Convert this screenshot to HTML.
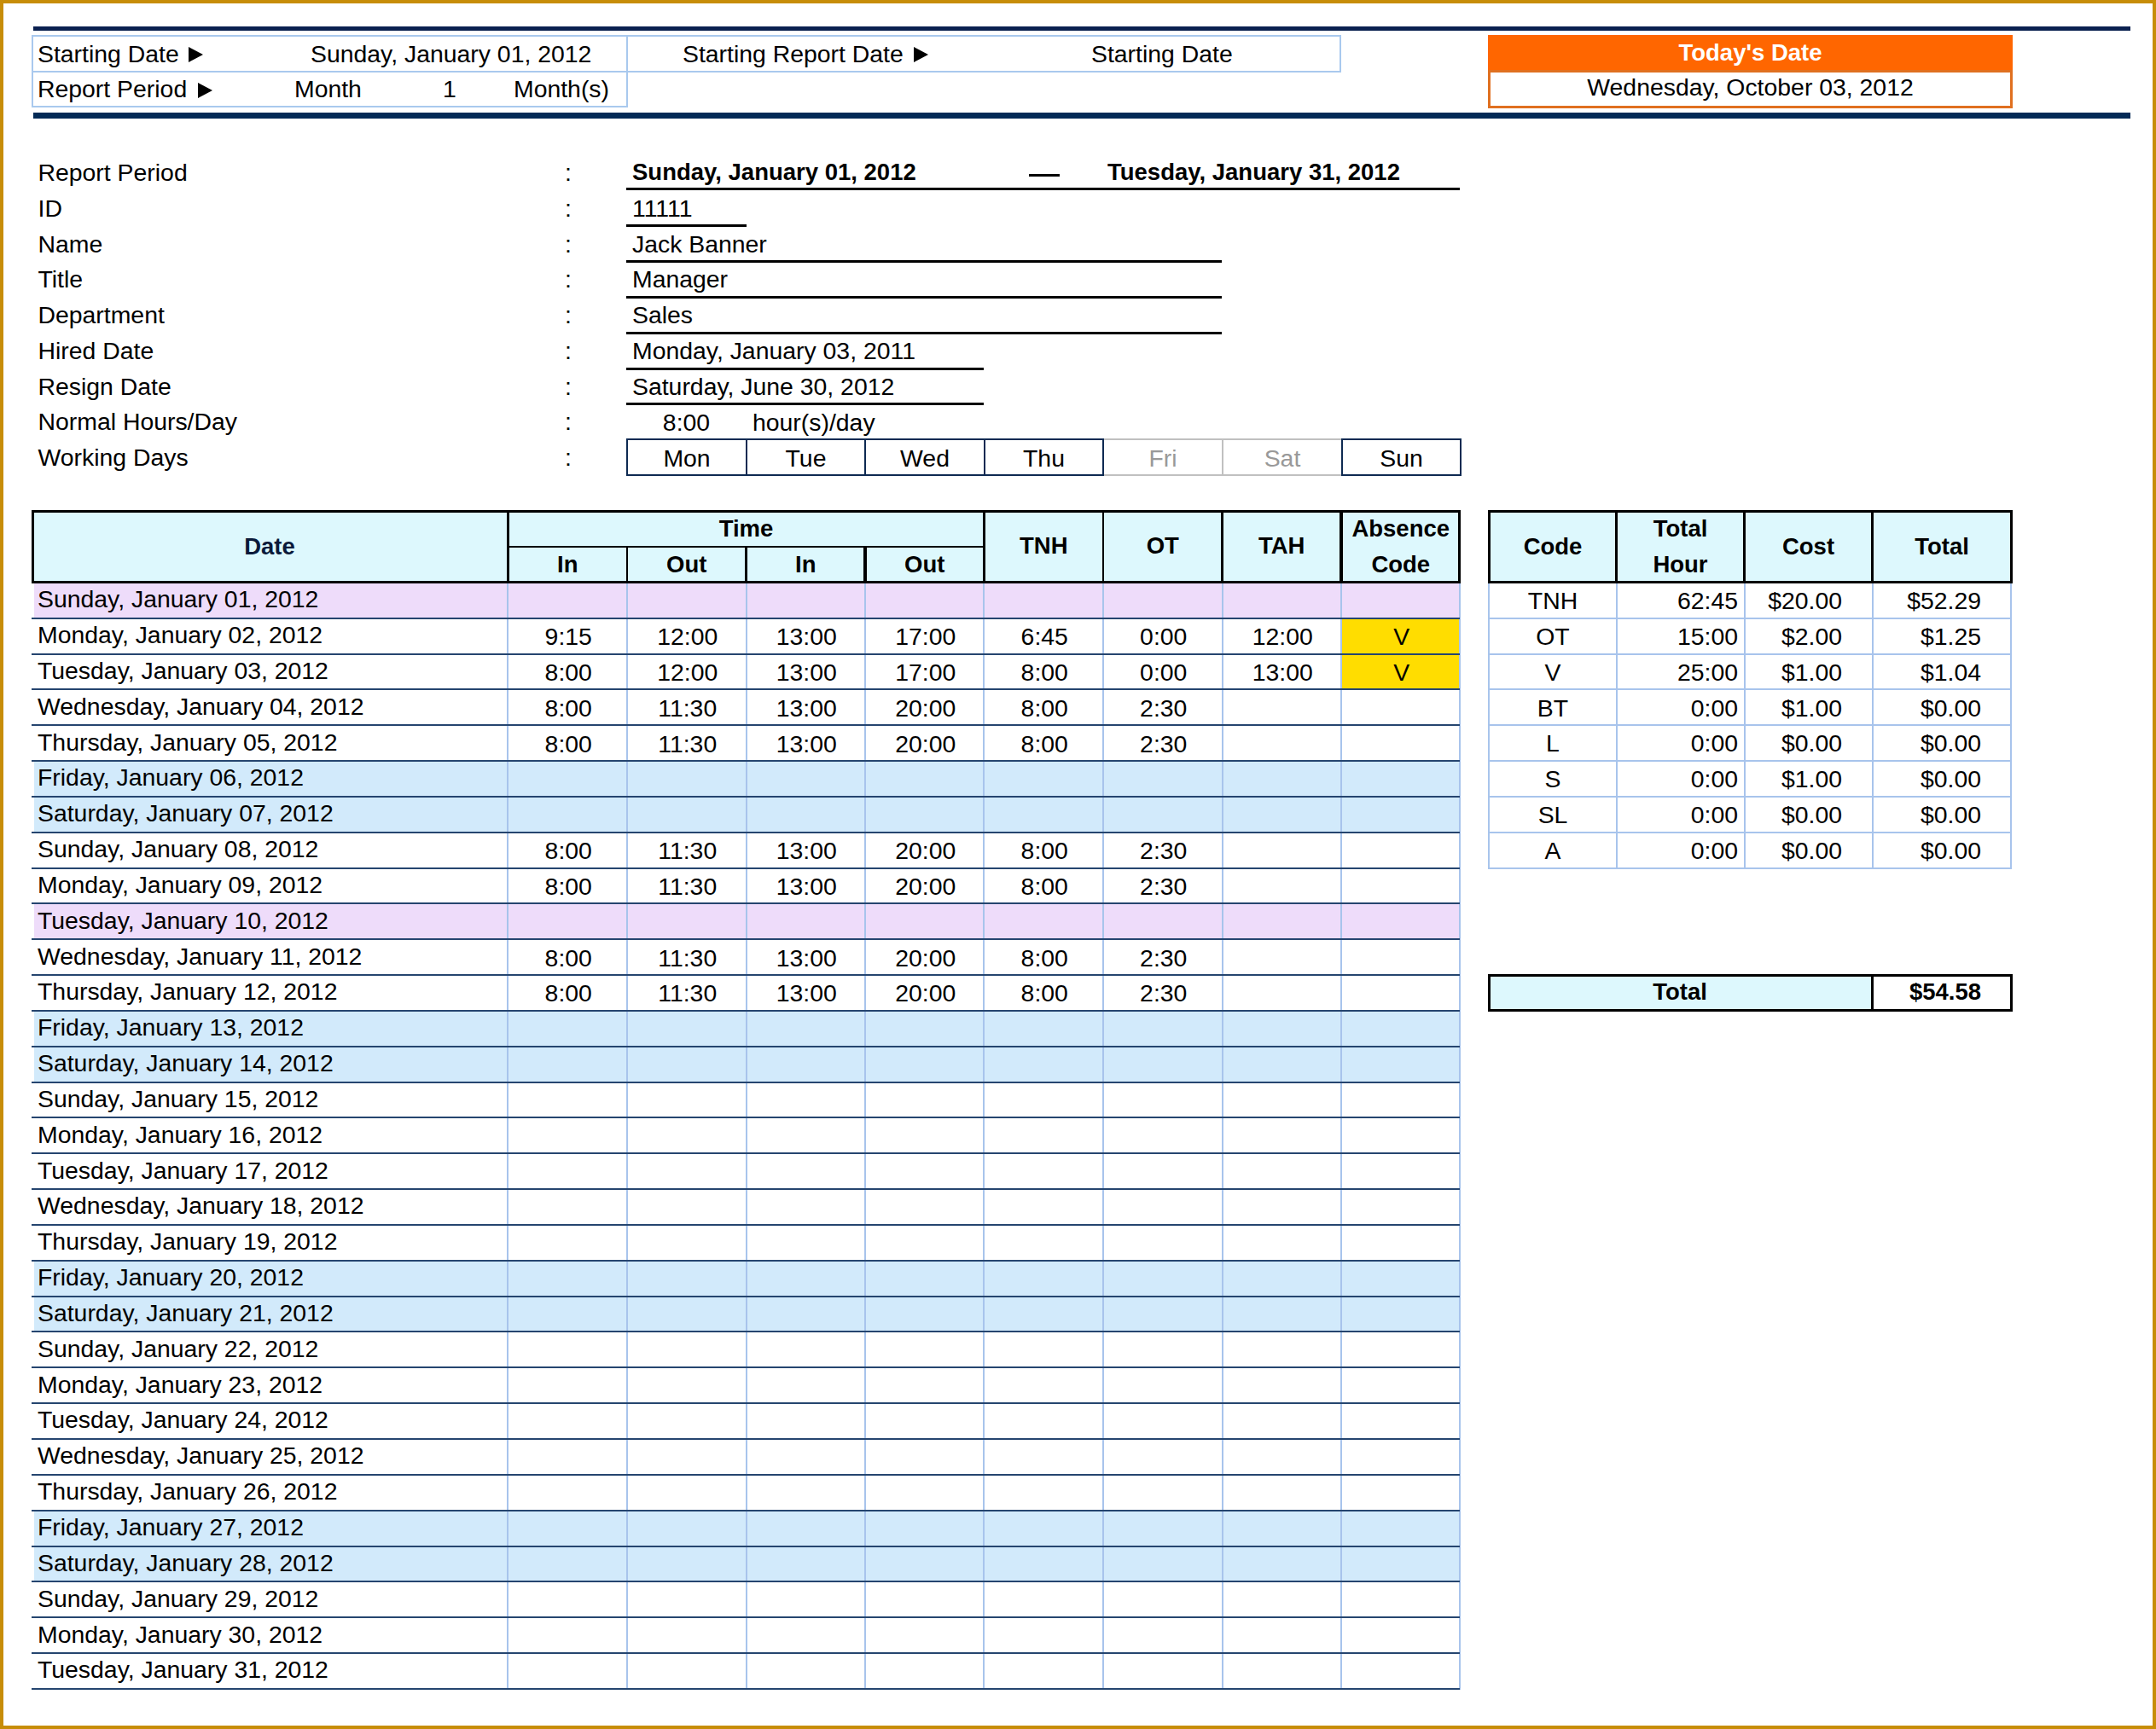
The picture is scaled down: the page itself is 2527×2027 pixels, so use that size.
<!DOCTYPE html>
<html><head><meta charset="utf-8"><style>
html,body{margin:0;padding:0;background:#fff;}
body{width:2527px;height:2027px;position:relative;overflow:hidden;font-family:"Liberation Sans",sans-serif;}
body>div,body>svg{position:absolute;}
.t{white-space:nowrap;}
</style></head><body>
<div style="left:0px;top:0px;width:2527px;height:4px;background:#C78D08"></div>
<div style="left:0px;top:2023px;width:2527px;height:4px;background:#C78D08"></div>
<div style="left:0px;top:0px;width:4px;height:2027px;background:#C78D08"></div>
<div style="left:2523px;top:0px;width:4px;height:2027px;background:#C78D08"></div>
<div style="left:39px;top:31px;width:2458px;height:5px;background:#0B2150"></div>
<div style="left:39px;top:132px;width:2458px;height:7px;background:#032A56"></div>
<div style="left:37px;top:41px;width:1535px;height:2px;background:#A9C9EE"></div>
<div style="left:37px;top:41px;width:2px;height:85px;background:#A9C9EE"></div>
<div style="left:37px;top:83px;width:1535px;height:2px;background:#A9C9EE"></div>
<div style="left:37px;top:124px;width:699px;height:2px;background:#A9C9EE"></div>
<div style="left:734px;top:41px;width:2px;height:85px;background:#A9C9EE"></div>
<div style="left:1570px;top:41px;width:2px;height:44px;background:#A9C9EE"></div>
<div class="t" style="top:48.96px;font-size:28.4px;line-height:28.4px;color:#000;left:44px;">Starting Date</div>
<svg style="left:221px;top:55px" width="17" height="18" viewBox="0 0 17 18"><polygon points="0,0 17,9.0 0,18" fill="#000"/></svg>
<div class="t" style="top:48.96px;font-size:28.4px;line-height:28.4px;color:#000;left:364px;">Sunday, January 01, 2012</div>
<div class="t" style="top:90.46px;font-size:28.4px;line-height:28.4px;color:#000;left:44px;">Report Period</div>
<svg style="left:232px;top:97px" width="17" height="18" viewBox="0 0 17 18"><polygon points="0,0 17,9.0 0,18" fill="#000"/></svg>
<div class="t" style="top:90.46px;font-size:28.4px;line-height:28.4px;color:#000;left:345px;">Month</div>
<div class="t" style="top:90.46px;font-size:28.4px;line-height:28.4px;color:#000;left:519px;">1</div>
<div class="t" style="top:90.46px;font-size:28.4px;line-height:28.4px;color:#000;left:602px;">Month(s)</div>
<div class="t" style="top:48.96px;font-size:28.4px;line-height:28.4px;color:#000;left:800px;">Starting Report Date</div>
<svg style="left:1071px;top:55px" width="17" height="18" viewBox="0 0 17 18"><polygon points="0,0 17,9.0 0,18" fill="#000"/></svg>
<div class="t" style="top:48.96px;font-size:28.4px;line-height:28.4px;color:#000;left:1279px;">Starting Date</div>
<div style="left:1744px;top:41px;width:615px;height:43px;background:#FF6600"></div>
<div style="left:1744px;top:82px;width:615px;height:45px;border:3px solid #E07020;box-sizing:border-box"></div>
<div class="t" style="top:48.22px;font-size:27.5px;line-height:27.5px;color:#fff;font-weight:bold;left:1744px;width:615px;text-align:center;">Today's Date</div>
<div class="t" style="top:88.46px;font-size:28.4px;line-height:28.4px;color:#000;left:1744px;width:615px;text-align:center;">Wednesday, October 03, 2012</div>
<div class="t" style="top:188.26px;font-size:28.4px;line-height:28.4px;color:#000;left:44.5px;">Report Period</div>
<div class="t" style="top:188.26px;font-size:28.4px;line-height:28.4px;color:#000;left:660px;width:12px;text-align:center;">:</div>
<div class="t" style="top:229.98px;font-size:28.4px;line-height:28.4px;color:#000;left:44.5px;">ID</div>
<div class="t" style="top:229.98px;font-size:28.4px;line-height:28.4px;color:#000;left:660px;width:12px;text-align:center;">:</div>
<div class="t" style="top:271.70px;font-size:28.4px;line-height:28.4px;color:#000;left:44.5px;">Name</div>
<div class="t" style="top:271.70px;font-size:28.4px;line-height:28.4px;color:#000;left:660px;width:12px;text-align:center;">:</div>
<div class="t" style="top:313.42px;font-size:28.4px;line-height:28.4px;color:#000;left:44.5px;">Title</div>
<div class="t" style="top:313.42px;font-size:28.4px;line-height:28.4px;color:#000;left:660px;width:12px;text-align:center;">:</div>
<div class="t" style="top:355.14px;font-size:28.4px;line-height:28.4px;color:#000;left:44.5px;">Department</div>
<div class="t" style="top:355.14px;font-size:28.4px;line-height:28.4px;color:#000;left:660px;width:12px;text-align:center;">:</div>
<div class="t" style="top:396.86px;font-size:28.4px;line-height:28.4px;color:#000;left:44.5px;">Hired Date</div>
<div class="t" style="top:396.86px;font-size:28.4px;line-height:28.4px;color:#000;left:660px;width:12px;text-align:center;">:</div>
<div class="t" style="top:438.58px;font-size:28.4px;line-height:28.4px;color:#000;left:44.5px;">Resign Date</div>
<div class="t" style="top:438.58px;font-size:28.4px;line-height:28.4px;color:#000;left:660px;width:12px;text-align:center;">:</div>
<div class="t" style="top:480.30px;font-size:28.4px;line-height:28.4px;color:#000;left:44.5px;">Normal Hours/Day</div>
<div class="t" style="top:480.30px;font-size:28.4px;line-height:28.4px;color:#000;left:660px;width:12px;text-align:center;">:</div>
<div class="t" style="top:522.02px;font-size:28.4px;line-height:28.4px;color:#000;left:44.5px;">Working Days</div>
<div class="t" style="top:522.02px;font-size:28.4px;line-height:28.4px;color:#000;left:660px;width:12px;text-align:center;">:</div>
<div class="t" style="top:188.02px;font-size:27.5px;line-height:27.5px;color:#000;font-weight:bold;left:741px;">Sunday, January 01, 2012</div>
<div style="left:1206px;top:204px;width:36px;height:2.5px;background:#000"></div>
<div class="t" style="top:188.02px;font-size:27.5px;line-height:27.5px;color:#000;font-weight:bold;left:1298px;">Tuesday, January 31, 2012</div>
<div style="left:734px;top:220px;width:977px;height:3px;background:#000"></div>
<div class="t" style="top:229.98px;font-size:28.4px;line-height:28.4px;color:#000;left:741px;">11111</div>
<div style="left:734px;top:263px;width:141px;height:3px;background:#000"></div>
<div class="t" style="top:271.70px;font-size:28.4px;line-height:28.4px;color:#000;left:741px;">Jack Banner</div>
<div style="left:734px;top:305px;width:698px;height:3px;background:#000"></div>
<div class="t" style="top:313.42px;font-size:28.4px;line-height:28.4px;color:#000;left:741px;">Manager</div>
<div style="left:734px;top:347px;width:698px;height:3px;background:#000"></div>
<div class="t" style="top:355.14px;font-size:28.4px;line-height:28.4px;color:#000;left:741px;">Sales</div>
<div style="left:734px;top:389px;width:698px;height:3px;background:#000"></div>
<div class="t" style="top:396.86px;font-size:28.4px;line-height:28.4px;color:#000;left:741px;">Monday, January 03, 2011</div>
<div style="left:734px;top:431px;width:419px;height:3px;background:#000"></div>
<div class="t" style="top:438.58px;font-size:28.4px;line-height:28.4px;color:#000;left:741px;">Saturday, June 30, 2012</div>
<div style="left:734px;top:472px;width:419px;height:3px;background:#000"></div>
<div class="t" style="top:481.00px;font-size:28.4px;line-height:28.4px;color:#000;left:734px;width:141px;text-align:center;">8:00</div>
<div class="t" style="top:481.00px;font-size:28.4px;line-height:28.4px;color:#000;left:882px;">hour(s)/day</div>
<div style="left:734px;top:514px;width:142px;height:44px;border:2.5px solid #0E2A52;box-sizing:border-box"></div>
<div style="left:874px;top:514px;width:141px;height:44px;border:2.5px solid #0E2A52;box-sizing:border-box"></div>
<div style="left:1013px;top:514px;width:142px;height:44px;border:2.5px solid #0E2A52;box-sizing:border-box"></div>
<div style="left:1153px;top:514px;width:141px;height:44px;border:2.5px solid #0E2A52;box-sizing:border-box"></div>
<div style="left:1292px;top:514px;width:142px;height:44px;border:2px solid #C0C0C0;box-sizing:border-box"></div>
<div style="left:1432px;top:514px;width:142px;height:44px;border:2px solid #C0C0C0;box-sizing:border-box"></div>
<div style="left:1572px;top:514px;width:141px;height:44px;border:2.5px solid #0E2A52;box-sizing:border-box"></div>
<div style="left:734px;top:514px;width:142px;height:44px;border:2.5px solid #0E2A52;box-sizing:border-box"></div>
<div class="t" style="top:522.56px;font-size:28.4px;line-height:28.4px;color:#000;left:734px;width:142px;text-align:center;">Mon</div>
<div style="left:874px;top:514px;width:141px;height:44px;border:2.5px solid #0E2A52;box-sizing:border-box"></div>
<div class="t" style="top:522.56px;font-size:28.4px;line-height:28.4px;color:#000;left:874px;width:141px;text-align:center;">Tue</div>
<div style="left:1013px;top:514px;width:142px;height:44px;border:2.5px solid #0E2A52;box-sizing:border-box"></div>
<div class="t" style="top:522.56px;font-size:28.4px;line-height:28.4px;color:#000;left:1013px;width:142px;text-align:center;">Wed</div>
<div style="left:1153px;top:514px;width:141px;height:44px;border:2.5px solid #0E2A52;box-sizing:border-box"></div>
<div class="t" style="top:522.56px;font-size:28.4px;line-height:28.4px;color:#000;left:1153px;width:141px;text-align:center;">Thu</div>
<div class="t" style="top:522.56px;font-size:28.4px;line-height:28.4px;color:#999;left:1292px;width:142px;text-align:center;">Fri</div>
<div class="t" style="top:522.56px;font-size:28.4px;line-height:28.4px;color:#999;left:1432px;width:142px;text-align:center;">Sat</div>
<div style="left:1572px;top:514px;width:141px;height:44px;border:2.5px solid #0E2A52;box-sizing:border-box"></div>
<div class="t" style="top:522.56px;font-size:28.4px;line-height:28.4px;color:#000;left:1572px;width:141px;text-align:center;">Sun</div>
<div style="left:37px;top:598px;width:1675px;height:86px;background:#DDF8FD"></div>
<div style="left:40px;top:683px;width:1671px;height:42px;background:#EEDCFA"></div>
<div style="left:1572px;top:725px;width:139px;height:42px;background:#FFDD00"></div>
<div style="left:1572px;top:767px;width:139px;height:41px;background:#FFDD00"></div>
<div style="left:40px;top:892px;width:1671px;height:42px;background:#D2EAFB"></div>
<div style="left:40px;top:934px;width:1671px;height:42px;background:#D2EAFB"></div>
<div style="left:40px;top:1059px;width:1671px;height:42px;background:#EEDCFA"></div>
<div style="left:40px;top:1185px;width:1671px;height:42px;background:#D2EAFB"></div>
<div style="left:40px;top:1227px;width:1671px;height:42px;background:#D2EAFB"></div>
<div style="left:40px;top:1478px;width:1671px;height:42px;background:#D2EAFB"></div>
<div style="left:40px;top:1520px;width:1671px;height:42px;background:#D2EAFB"></div>
<div style="left:40px;top:1771px;width:1671px;height:42px;background:#D2EAFB"></div>
<div style="left:40px;top:1813px;width:1671px;height:41px;background:#D2EAFB"></div>
<div style="left:594px;top:684px;width:2px;height:1297px;background:#A8C4EC"></div>
<div style="left:734px;top:684px;width:2px;height:1297px;background:#A8C4EC"></div>
<div style="left:874px;top:684px;width:2px;height:1297px;background:#A8C4EC"></div>
<div style="left:1013px;top:684px;width:2px;height:1297px;background:#A8C4EC"></div>
<div style="left:1152px;top:684px;width:2px;height:1297px;background:#A8C4EC"></div>
<div style="left:1292px;top:684px;width:2px;height:1297px;background:#A8C4EC"></div>
<div style="left:1432px;top:684px;width:2px;height:1297px;background:#A8C4EC"></div>
<div style="left:1571px;top:684px;width:2px;height:1297px;background:#A8C4EC"></div>
<div style="left:1710px;top:684px;width:2px;height:1297px;background:#A8C4EC"></div>
<div style="left:37px;top:724px;width:1674px;height:2px;background:#25456F"></div>
<div style="left:37px;top:766px;width:1674px;height:2px;background:#25456F"></div>
<div style="left:37px;top:807px;width:1674px;height:2px;background:#25456F"></div>
<div style="left:37px;top:849px;width:1674px;height:2px;background:#25456F"></div>
<div style="left:37px;top:891px;width:1674px;height:2px;background:#25456F"></div>
<div style="left:37px;top:933px;width:1674px;height:2px;background:#25456F"></div>
<div style="left:37px;top:975px;width:1674px;height:2px;background:#25456F"></div>
<div style="left:37px;top:1017px;width:1674px;height:2px;background:#25456F"></div>
<div style="left:37px;top:1058px;width:1674px;height:2px;background:#25456F"></div>
<div style="left:37px;top:1100px;width:1674px;height:2px;background:#25456F"></div>
<div style="left:37px;top:1142px;width:1674px;height:2px;background:#25456F"></div>
<div style="left:37px;top:1184px;width:1674px;height:2px;background:#25456F"></div>
<div style="left:37px;top:1226px;width:1674px;height:2px;background:#25456F"></div>
<div style="left:37px;top:1268px;width:1674px;height:2px;background:#25456F"></div>
<div style="left:37px;top:1309px;width:1674px;height:2px;background:#25456F"></div>
<div style="left:37px;top:1351px;width:1674px;height:2px;background:#25456F"></div>
<div style="left:37px;top:1393px;width:1674px;height:2px;background:#25456F"></div>
<div style="left:37px;top:1435px;width:1674px;height:2px;background:#25456F"></div>
<div style="left:37px;top:1477px;width:1674px;height:2px;background:#25456F"></div>
<div style="left:37px;top:1519px;width:1674px;height:2px;background:#25456F"></div>
<div style="left:37px;top:1560px;width:1674px;height:2px;background:#25456F"></div>
<div style="left:37px;top:1602px;width:1674px;height:2px;background:#25456F"></div>
<div style="left:37px;top:1644px;width:1674px;height:2px;background:#25456F"></div>
<div style="left:37px;top:1686px;width:1674px;height:2px;background:#25456F"></div>
<div style="left:37px;top:1728px;width:1674px;height:2px;background:#25456F"></div>
<div style="left:37px;top:1770px;width:1674px;height:2px;background:#25456F"></div>
<div style="left:37px;top:1812px;width:1674px;height:2px;background:#25456F"></div>
<div style="left:37px;top:1853px;width:1674px;height:2px;background:#25456F"></div>
<div style="left:37px;top:1895px;width:1674px;height:2px;background:#25456F"></div>
<div style="left:37px;top:1937px;width:1674px;height:2px;background:#25456F"></div>
<div style="left:37px;top:1979px;width:1674px;height:2px;background:#25456F"></div>
<div style="left:37px;top:598px;width:1675px;height:3px;background:#000"></div>
<div style="left:37px;top:681px;width:1675px;height:3px;background:#000"></div>
<div style="left:37px;top:598px;width:3px;height:86px;background:#000"></div>
<div style="left:1709px;top:598px;width:3px;height:86px;background:#000"></div>
<div style="left:594px;top:598px;width:3px;height:86px;background:#000"></div>
<div style="left:734px;top:640px;width:2px;height:44px;background:#000"></div>
<div style="left:873px;top:640px;width:3px;height:44px;background:#000"></div>
<div style="left:1012px;top:640px;width:4px;height:44px;background:#000"></div>
<div style="left:1152px;top:598px;width:3px;height:86px;background:#000"></div>
<div style="left:1292px;top:598px;width:2px;height:86px;background:#000"></div>
<div style="left:1431px;top:598px;width:3px;height:86px;background:#000"></div>
<div style="left:1570px;top:598px;width:4px;height:86px;background:#000"></div>
<div style="left:595px;top:639.5px;width:559px;height:2.5px;background:#000"></div>
<div class="t" style="top:626.52px;font-size:27.5px;line-height:27.5px;color:#0A1A3A;font-weight:bold;left:37px;width:558px;text-align:center;">Date</div>
<div class="t" style="top:606.12px;font-size:27.5px;line-height:27.5px;color:#000;font-weight:bold;left:595px;width:559px;text-align:center;">Time</div>
<div class="t" style="top:648.22px;font-size:27.5px;line-height:27.5px;color:#000;font-weight:bold;left:595.5px;width:139.5px;text-align:center;">In</div>
<div class="t" style="top:648.22px;font-size:27.5px;line-height:27.5px;color:#000;font-weight:bold;left:735.0px;width:139.5px;text-align:center;">Out</div>
<div class="t" style="top:648.22px;font-size:27.5px;line-height:27.5px;color:#000;font-weight:bold;left:874.5px;width:139.5px;text-align:center;">In</div>
<div class="t" style="top:648.22px;font-size:27.5px;line-height:27.5px;color:#000;font-weight:bold;left:1014.0px;width:139.5px;text-align:center;">Out</div>
<div class="t" style="top:626.22px;font-size:27.5px;line-height:27.5px;color:#000;font-weight:bold;left:1153.5px;width:139.5px;text-align:center;">TNH</div>
<div class="t" style="top:626.22px;font-size:27.5px;line-height:27.5px;color:#000;font-weight:bold;left:1293.0px;width:139.5px;text-align:center;">OT</div>
<div class="t" style="top:626.22px;font-size:27.5px;line-height:27.5px;color:#000;font-weight:bold;left:1432.5px;width:139.5px;text-align:center;">TAH</div>
<div class="t" style="top:606.12px;font-size:27.5px;line-height:27.5px;color:#000;font-weight:bold;left:1572.0px;width:139.5px;text-align:center;">Absence</div>
<div class="t" style="top:647.92px;font-size:27.5px;line-height:27.5px;color:#000;font-weight:bold;left:1572.0px;width:139.5px;text-align:center;">Code</div>
<div class="t" style="top:688.16px;font-size:28.4px;line-height:28.4px;color:#000;left:44px;">Sunday, January 01, 2012</div>
<div class="t" style="top:730.00px;font-size:28.4px;line-height:28.4px;color:#000;left:44px;">Monday, January 02, 2012</div>
<div class="t" style="top:732.00px;font-size:28.4px;line-height:28.4px;color:#000;left:596.5px;width:139.5px;text-align:center;">9:15</div>
<div class="t" style="top:732.00px;font-size:28.4px;line-height:28.4px;color:#000;left:736.0px;width:139.5px;text-align:center;">12:00</div>
<div class="t" style="top:732.00px;font-size:28.4px;line-height:28.4px;color:#000;left:875.5px;width:139.5px;text-align:center;">13:00</div>
<div class="t" style="top:732.00px;font-size:28.4px;line-height:28.4px;color:#000;left:1015.0px;width:139.5px;text-align:center;">17:00</div>
<div class="t" style="top:732.00px;font-size:28.4px;line-height:28.4px;color:#000;left:1154.5px;width:139.5px;text-align:center;">6:45</div>
<div class="t" style="top:732.00px;font-size:28.4px;line-height:28.4px;color:#000;left:1294.0px;width:139.5px;text-align:center;">0:00</div>
<div class="t" style="top:732.00px;font-size:28.4px;line-height:28.4px;color:#000;left:1433.5px;width:139.5px;text-align:center;">12:00</div>
<div class="t" style="top:732.00px;font-size:28.4px;line-height:28.4px;color:#000;left:1573.0px;width:139.5px;text-align:center;">V</div>
<div class="t" style="top:771.84px;font-size:28.4px;line-height:28.4px;color:#000;left:44px;">Tuesday, January 03, 2012</div>
<div class="t" style="top:773.84px;font-size:28.4px;line-height:28.4px;color:#000;left:596.5px;width:139.5px;text-align:center;">8:00</div>
<div class="t" style="top:773.84px;font-size:28.4px;line-height:28.4px;color:#000;left:736.0px;width:139.5px;text-align:center;">12:00</div>
<div class="t" style="top:773.84px;font-size:28.4px;line-height:28.4px;color:#000;left:875.5px;width:139.5px;text-align:center;">13:00</div>
<div class="t" style="top:773.84px;font-size:28.4px;line-height:28.4px;color:#000;left:1015.0px;width:139.5px;text-align:center;">17:00</div>
<div class="t" style="top:773.84px;font-size:28.4px;line-height:28.4px;color:#000;left:1154.5px;width:139.5px;text-align:center;">8:00</div>
<div class="t" style="top:773.84px;font-size:28.4px;line-height:28.4px;color:#000;left:1294.0px;width:139.5px;text-align:center;">0:00</div>
<div class="t" style="top:773.84px;font-size:28.4px;line-height:28.4px;color:#000;left:1433.5px;width:139.5px;text-align:center;">13:00</div>
<div class="t" style="top:773.84px;font-size:28.4px;line-height:28.4px;color:#000;left:1573.0px;width:139.5px;text-align:center;">V</div>
<div class="t" style="top:813.68px;font-size:28.4px;line-height:28.4px;color:#000;left:44px;">Wednesday, January 04, 2012</div>
<div class="t" style="top:815.68px;font-size:28.4px;line-height:28.4px;color:#000;left:596.5px;width:139.5px;text-align:center;">8:00</div>
<div class="t" style="top:815.68px;font-size:28.4px;line-height:28.4px;color:#000;left:736.0px;width:139.5px;text-align:center;">11:30</div>
<div class="t" style="top:815.68px;font-size:28.4px;line-height:28.4px;color:#000;left:875.5px;width:139.5px;text-align:center;">13:00</div>
<div class="t" style="top:815.68px;font-size:28.4px;line-height:28.4px;color:#000;left:1015.0px;width:139.5px;text-align:center;">20:00</div>
<div class="t" style="top:815.68px;font-size:28.4px;line-height:28.4px;color:#000;left:1154.5px;width:139.5px;text-align:center;">8:00</div>
<div class="t" style="top:815.68px;font-size:28.4px;line-height:28.4px;color:#000;left:1294.0px;width:139.5px;text-align:center;">2:30</div>
<div class="t" style="top:855.52px;font-size:28.4px;line-height:28.4px;color:#000;left:44px;">Thursday, January 05, 2012</div>
<div class="t" style="top:857.52px;font-size:28.4px;line-height:28.4px;color:#000;left:596.5px;width:139.5px;text-align:center;">8:00</div>
<div class="t" style="top:857.52px;font-size:28.4px;line-height:28.4px;color:#000;left:736.0px;width:139.5px;text-align:center;">11:30</div>
<div class="t" style="top:857.52px;font-size:28.4px;line-height:28.4px;color:#000;left:875.5px;width:139.5px;text-align:center;">13:00</div>
<div class="t" style="top:857.52px;font-size:28.4px;line-height:28.4px;color:#000;left:1015.0px;width:139.5px;text-align:center;">20:00</div>
<div class="t" style="top:857.52px;font-size:28.4px;line-height:28.4px;color:#000;left:1154.5px;width:139.5px;text-align:center;">8:00</div>
<div class="t" style="top:857.52px;font-size:28.4px;line-height:28.4px;color:#000;left:1294.0px;width:139.5px;text-align:center;">2:30</div>
<div class="t" style="top:897.36px;font-size:28.4px;line-height:28.4px;color:#000;left:44px;">Friday, January 06, 2012</div>
<div class="t" style="top:939.20px;font-size:28.4px;line-height:28.4px;color:#000;left:44px;">Saturday, January 07, 2012</div>
<div class="t" style="top:981.04px;font-size:28.4px;line-height:28.4px;color:#000;left:44px;">Sunday, January 08, 2012</div>
<div class="t" style="top:983.04px;font-size:28.4px;line-height:28.4px;color:#000;left:596.5px;width:139.5px;text-align:center;">8:00</div>
<div class="t" style="top:983.04px;font-size:28.4px;line-height:28.4px;color:#000;left:736.0px;width:139.5px;text-align:center;">11:30</div>
<div class="t" style="top:983.04px;font-size:28.4px;line-height:28.4px;color:#000;left:875.5px;width:139.5px;text-align:center;">13:00</div>
<div class="t" style="top:983.04px;font-size:28.4px;line-height:28.4px;color:#000;left:1015.0px;width:139.5px;text-align:center;">20:00</div>
<div class="t" style="top:983.04px;font-size:28.4px;line-height:28.4px;color:#000;left:1154.5px;width:139.5px;text-align:center;">8:00</div>
<div class="t" style="top:983.04px;font-size:28.4px;line-height:28.4px;color:#000;left:1294.0px;width:139.5px;text-align:center;">2:30</div>
<div class="t" style="top:1022.88px;font-size:28.4px;line-height:28.4px;color:#000;left:44px;">Monday, January 09, 2012</div>
<div class="t" style="top:1024.88px;font-size:28.4px;line-height:28.4px;color:#000;left:596.5px;width:139.5px;text-align:center;">8:00</div>
<div class="t" style="top:1024.88px;font-size:28.4px;line-height:28.4px;color:#000;left:736.0px;width:139.5px;text-align:center;">11:30</div>
<div class="t" style="top:1024.88px;font-size:28.4px;line-height:28.4px;color:#000;left:875.5px;width:139.5px;text-align:center;">13:00</div>
<div class="t" style="top:1024.88px;font-size:28.4px;line-height:28.4px;color:#000;left:1015.0px;width:139.5px;text-align:center;">20:00</div>
<div class="t" style="top:1024.88px;font-size:28.4px;line-height:28.4px;color:#000;left:1154.5px;width:139.5px;text-align:center;">8:00</div>
<div class="t" style="top:1024.88px;font-size:28.4px;line-height:28.4px;color:#000;left:1294.0px;width:139.5px;text-align:center;">2:30</div>
<div class="t" style="top:1064.72px;font-size:28.4px;line-height:28.4px;color:#000;left:44px;">Tuesday, January 10, 2012</div>
<div class="t" style="top:1106.56px;font-size:28.4px;line-height:28.4px;color:#000;left:44px;">Wednesday, January 11, 2012</div>
<div class="t" style="top:1108.56px;font-size:28.4px;line-height:28.4px;color:#000;left:596.5px;width:139.5px;text-align:center;">8:00</div>
<div class="t" style="top:1108.56px;font-size:28.4px;line-height:28.4px;color:#000;left:736.0px;width:139.5px;text-align:center;">11:30</div>
<div class="t" style="top:1108.56px;font-size:28.4px;line-height:28.4px;color:#000;left:875.5px;width:139.5px;text-align:center;">13:00</div>
<div class="t" style="top:1108.56px;font-size:28.4px;line-height:28.4px;color:#000;left:1015.0px;width:139.5px;text-align:center;">20:00</div>
<div class="t" style="top:1108.56px;font-size:28.4px;line-height:28.4px;color:#000;left:1154.5px;width:139.5px;text-align:center;">8:00</div>
<div class="t" style="top:1108.56px;font-size:28.4px;line-height:28.4px;color:#000;left:1294.0px;width:139.5px;text-align:center;">2:30</div>
<div class="t" style="top:1148.40px;font-size:28.4px;line-height:28.4px;color:#000;left:44px;">Thursday, January 12, 2012</div>
<div class="t" style="top:1150.40px;font-size:28.4px;line-height:28.4px;color:#000;left:596.5px;width:139.5px;text-align:center;">8:00</div>
<div class="t" style="top:1150.40px;font-size:28.4px;line-height:28.4px;color:#000;left:736.0px;width:139.5px;text-align:center;">11:30</div>
<div class="t" style="top:1150.40px;font-size:28.4px;line-height:28.4px;color:#000;left:875.5px;width:139.5px;text-align:center;">13:00</div>
<div class="t" style="top:1150.40px;font-size:28.4px;line-height:28.4px;color:#000;left:1015.0px;width:139.5px;text-align:center;">20:00</div>
<div class="t" style="top:1150.40px;font-size:28.4px;line-height:28.4px;color:#000;left:1154.5px;width:139.5px;text-align:center;">8:00</div>
<div class="t" style="top:1150.40px;font-size:28.4px;line-height:28.4px;color:#000;left:1294.0px;width:139.5px;text-align:center;">2:30</div>
<div class="t" style="top:1190.24px;font-size:28.4px;line-height:28.4px;color:#000;left:44px;">Friday, January 13, 2012</div>
<div class="t" style="top:1232.08px;font-size:28.4px;line-height:28.4px;color:#000;left:44px;">Saturday, January 14, 2012</div>
<div class="t" style="top:1273.92px;font-size:28.4px;line-height:28.4px;color:#000;left:44px;">Sunday, January 15, 2012</div>
<div class="t" style="top:1315.76px;font-size:28.4px;line-height:28.4px;color:#000;left:44px;">Monday, January 16, 2012</div>
<div class="t" style="top:1357.60px;font-size:28.4px;line-height:28.4px;color:#000;left:44px;">Tuesday, January 17, 2012</div>
<div class="t" style="top:1399.44px;font-size:28.4px;line-height:28.4px;color:#000;left:44px;">Wednesday, January 18, 2012</div>
<div class="t" style="top:1441.28px;font-size:28.4px;line-height:28.4px;color:#000;left:44px;">Thursday, January 19, 2012</div>
<div class="t" style="top:1483.12px;font-size:28.4px;line-height:28.4px;color:#000;left:44px;">Friday, January 20, 2012</div>
<div class="t" style="top:1524.96px;font-size:28.4px;line-height:28.4px;color:#000;left:44px;">Saturday, January 21, 2012</div>
<div class="t" style="top:1566.80px;font-size:28.4px;line-height:28.4px;color:#000;left:44px;">Sunday, January 22, 2012</div>
<div class="t" style="top:1608.64px;font-size:28.4px;line-height:28.4px;color:#000;left:44px;">Monday, January 23, 2012</div>
<div class="t" style="top:1650.48px;font-size:28.4px;line-height:28.4px;color:#000;left:44px;">Tuesday, January 24, 2012</div>
<div class="t" style="top:1692.32px;font-size:28.4px;line-height:28.4px;color:#000;left:44px;">Wednesday, January 25, 2012</div>
<div class="t" style="top:1734.16px;font-size:28.4px;line-height:28.4px;color:#000;left:44px;">Thursday, January 26, 2012</div>
<div class="t" style="top:1776.00px;font-size:28.4px;line-height:28.4px;color:#000;left:44px;">Friday, January 27, 2012</div>
<div class="t" style="top:1817.84px;font-size:28.4px;line-height:28.4px;color:#000;left:44px;">Saturday, January 28, 2012</div>
<div class="t" style="top:1859.68px;font-size:28.4px;line-height:28.4px;color:#000;left:44px;">Sunday, January 29, 2012</div>
<div class="t" style="top:1901.52px;font-size:28.4px;line-height:28.4px;color:#000;left:44px;">Monday, January 30, 2012</div>
<div class="t" style="top:1943.36px;font-size:28.4px;line-height:28.4px;color:#000;left:44px;">Tuesday, January 31, 2012</div>
<div style="left:1744px;top:598px;width:615px;height:86px;background:#DDF8FD"></div>
<div style="left:1745px;top:724px;width:613px;height:2px;background:#A8C4EC"></div>
<div style="left:1745px;top:766px;width:613px;height:2px;background:#A8C4EC"></div>
<div style="left:1745px;top:807px;width:613px;height:2px;background:#A8C4EC"></div>
<div style="left:1745px;top:849px;width:613px;height:2px;background:#A8C4EC"></div>
<div style="left:1745px;top:891px;width:613px;height:2px;background:#A8C4EC"></div>
<div style="left:1745px;top:933px;width:613px;height:2px;background:#A8C4EC"></div>
<div style="left:1745px;top:975px;width:613px;height:2px;background:#A8C4EC"></div>
<div style="left:1745px;top:1017px;width:613px;height:2px;background:#A8C4EC"></div>
<div style="left:1744px;top:684px;width:2px;height:335px;background:#A8C4EC"></div>
<div style="left:1894px;top:684px;width:2px;height:335px;background:#A8C4EC"></div>
<div style="left:2044px;top:684px;width:2px;height:335px;background:#A8C4EC"></div>
<div style="left:2194px;top:684px;width:2px;height:335px;background:#A8C4EC"></div>
<div style="left:2356px;top:684px;width:2px;height:335px;background:#A8C4EC"></div>
<div style="left:1744px;top:598px;width:615px;height:3px;background:#000"></div>
<div style="left:1744px;top:681px;width:615px;height:3px;background:#000"></div>
<div style="left:1744px;top:598px;width:3px;height:86px;background:#000"></div>
<div style="left:1893px;top:598px;width:3px;height:86px;background:#000"></div>
<div style="left:2043px;top:598px;width:3px;height:86px;background:#000"></div>
<div style="left:2193px;top:598px;width:3px;height:86px;background:#000"></div>
<div style="left:2356px;top:598px;width:3px;height:86px;background:#000"></div>
<div class="t" style="top:626.72px;font-size:27.5px;line-height:27.5px;color:#000;font-weight:bold;left:1745.5px;width:149.0px;text-align:center;">Code</div>
<div class="t" style="top:606.12px;font-size:27.5px;line-height:27.5px;color:#000;font-weight:bold;left:1894.5px;width:150.0px;text-align:center;">Total</div>
<div class="t" style="top:648.12px;font-size:27.5px;line-height:27.5px;color:#000;font-weight:bold;left:1894.5px;width:150.0px;text-align:center;">Hour</div>
<div class="t" style="top:626.72px;font-size:27.5px;line-height:27.5px;color:#000;font-weight:bold;left:2044.5px;width:150.0px;text-align:center;">Cost</div>
<div class="t" style="top:626.72px;font-size:27.5px;line-height:27.5px;color:#000;font-weight:bold;left:2194.5px;width:163.0px;text-align:center;">Total</div>
<div class="t" style="top:690.06px;font-size:28.4px;line-height:28.4px;color:#000;left:1745.5px;width:149.0px;text-align:center;">TNH</div>
<div class="t" style="top:690.06px;font-size:28.4px;line-height:28.4px;color:#000;left:1894.5px;width:142.5px;text-align:right;">62:45</div>
<div class="t" style="top:690.06px;font-size:28.4px;line-height:28.4px;color:#000;left:2044.5px;width:114.5px;text-align:right;">$20.00</div>
<div class="t" style="top:690.06px;font-size:28.4px;line-height:28.4px;color:#000;left:2194.5px;width:127.5px;text-align:right;">$52.29</div>
<div class="t" style="top:731.90px;font-size:28.4px;line-height:28.4px;color:#000;left:1745.5px;width:149.0px;text-align:center;">OT</div>
<div class="t" style="top:731.90px;font-size:28.4px;line-height:28.4px;color:#000;left:1894.5px;width:142.5px;text-align:right;">15:00</div>
<div class="t" style="top:731.90px;font-size:28.4px;line-height:28.4px;color:#000;left:2044.5px;width:114.5px;text-align:right;">$2.00</div>
<div class="t" style="top:731.90px;font-size:28.4px;line-height:28.4px;color:#000;left:2194.5px;width:127.5px;text-align:right;">$1.25</div>
<div class="t" style="top:773.74px;font-size:28.4px;line-height:28.4px;color:#000;left:1745.5px;width:149.0px;text-align:center;">V</div>
<div class="t" style="top:773.74px;font-size:28.4px;line-height:28.4px;color:#000;left:1894.5px;width:142.5px;text-align:right;">25:00</div>
<div class="t" style="top:773.74px;font-size:28.4px;line-height:28.4px;color:#000;left:2044.5px;width:114.5px;text-align:right;">$1.00</div>
<div class="t" style="top:773.74px;font-size:28.4px;line-height:28.4px;color:#000;left:2194.5px;width:127.5px;text-align:right;">$1.04</div>
<div class="t" style="top:815.58px;font-size:28.4px;line-height:28.4px;color:#000;left:1745.5px;width:149.0px;text-align:center;">BT</div>
<div class="t" style="top:815.58px;font-size:28.4px;line-height:28.4px;color:#000;left:1894.5px;width:142.5px;text-align:right;">0:00</div>
<div class="t" style="top:815.58px;font-size:28.4px;line-height:28.4px;color:#000;left:2044.5px;width:114.5px;text-align:right;">$1.00</div>
<div class="t" style="top:815.58px;font-size:28.4px;line-height:28.4px;color:#000;left:2194.5px;width:127.5px;text-align:right;">$0.00</div>
<div class="t" style="top:857.42px;font-size:28.4px;line-height:28.4px;color:#000;left:1745.5px;width:149.0px;text-align:center;">L</div>
<div class="t" style="top:857.42px;font-size:28.4px;line-height:28.4px;color:#000;left:1894.5px;width:142.5px;text-align:right;">0:00</div>
<div class="t" style="top:857.42px;font-size:28.4px;line-height:28.4px;color:#000;left:2044.5px;width:114.5px;text-align:right;">$0.00</div>
<div class="t" style="top:857.42px;font-size:28.4px;line-height:28.4px;color:#000;left:2194.5px;width:127.5px;text-align:right;">$0.00</div>
<div class="t" style="top:899.26px;font-size:28.4px;line-height:28.4px;color:#000;left:1745.5px;width:149.0px;text-align:center;">S</div>
<div class="t" style="top:899.26px;font-size:28.4px;line-height:28.4px;color:#000;left:1894.5px;width:142.5px;text-align:right;">0:00</div>
<div class="t" style="top:899.26px;font-size:28.4px;line-height:28.4px;color:#000;left:2044.5px;width:114.5px;text-align:right;">$1.00</div>
<div class="t" style="top:899.26px;font-size:28.4px;line-height:28.4px;color:#000;left:2194.5px;width:127.5px;text-align:right;">$0.00</div>
<div class="t" style="top:941.10px;font-size:28.4px;line-height:28.4px;color:#000;left:1745.5px;width:149.0px;text-align:center;">SL</div>
<div class="t" style="top:941.10px;font-size:28.4px;line-height:28.4px;color:#000;left:1894.5px;width:142.5px;text-align:right;">0:00</div>
<div class="t" style="top:941.10px;font-size:28.4px;line-height:28.4px;color:#000;left:2044.5px;width:114.5px;text-align:right;">$0.00</div>
<div class="t" style="top:941.10px;font-size:28.4px;line-height:28.4px;color:#000;left:2194.5px;width:127.5px;text-align:right;">$0.00</div>
<div class="t" style="top:982.94px;font-size:28.4px;line-height:28.4px;color:#000;left:1745.5px;width:149.0px;text-align:center;">A</div>
<div class="t" style="top:982.94px;font-size:28.4px;line-height:28.4px;color:#000;left:1894.5px;width:142.5px;text-align:right;">0:00</div>
<div class="t" style="top:982.94px;font-size:28.4px;line-height:28.4px;color:#000;left:2044.5px;width:114.5px;text-align:right;">$0.00</div>
<div class="t" style="top:982.94px;font-size:28.4px;line-height:28.4px;color:#000;left:2194.5px;width:127.5px;text-align:right;">$0.00</div>
<div style="left:1744px;top:1142px;width:450px;height:43px;background:#DDF8FD"></div>
<div style="left:1744px;top:1142px;width:615px;height:44px;border:3px solid #000;box-sizing:border-box"></div>
<div style="left:2193px;top:1142px;width:3px;height:44px;background:#000"></div>
<div class="t" style="top:1148.72px;font-size:27.5px;line-height:27.5px;color:#000;font-weight:bold;left:1744px;width:450px;text-align:center;">Total</div>
<div class="t" style="top:1148.72px;font-size:27.5px;line-height:27.5px;color:#000;font-weight:bold;left:2196px;width:126px;text-align:right;">$54.58</div>
</body></html>
